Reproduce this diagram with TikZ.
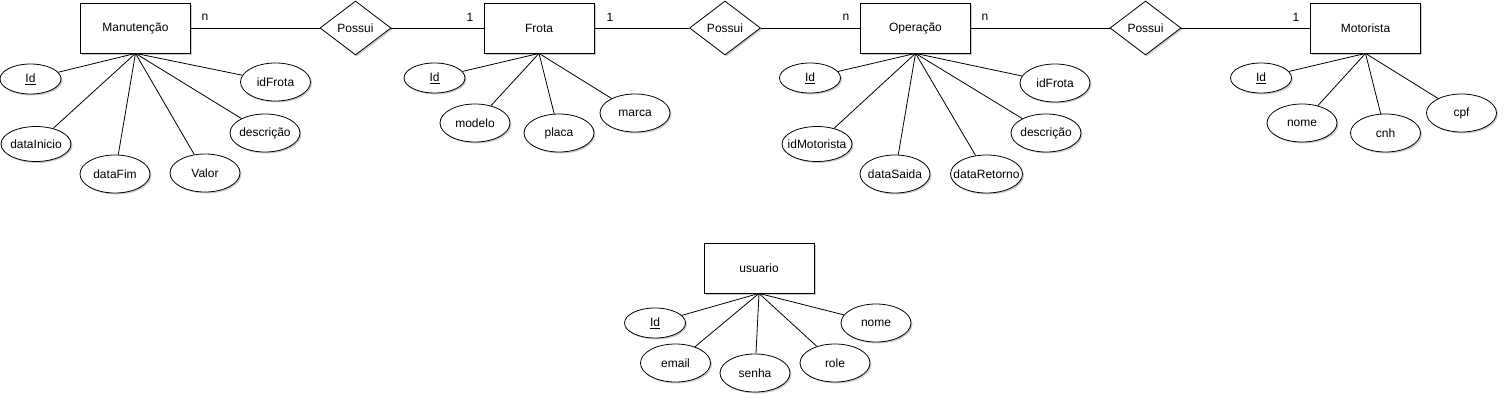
\documentclass[tikz,border=0pt]{standalone}
\usepackage{fontspec}
\setmainfont{Liberation Sans}
\usetikzlibrary{shapes.geometric,shadows}
\newcommand\tz[1]{\makebox[0pt]{#1}}
\begin{document}
\begin{tikzpicture}[x=1pt,y=-1pt,
  font=\fontsize{12}{14}\selectfont,
  sh/.style={drop shadow={shadow xshift=1.5pt,shadow yshift=-1.5pt,opacity=0.2,fill=black}},
  entity/.style={draw,thick,fill=white,sh,minimum width=110pt,minimum height=50pt,inner sep=0pt},
  rel/.style={draw,thick,fill=white,sh,diamond,aspect=1.3,minimum width=71pt,minimum height=54pt,inner sep=0pt},
  attr/.style={draw,thick,fill=white,sh,ellipse,minimum width=70pt,minimum height=38pt,inner sep=0pt},
  keyattr/.style={attr,minimum width=61pt,minimum height=30pt},
  link/.style={thick},
  card/.style={inner sep=0pt}
]
\useasboundingbox (0,0) rectangle (1508,405);
\fill[white] (0,0) rectangle (1508,405);

% entities and relations
\node[entity] (man) at (135.5,28) {Manutenção};
\node[rel] (r1) at (355.5,28) {Possui};
\node[entity] (fro) at (539,28) {Frota};
\node[rel] (r2) at (725,28) {Possui};
\node[entity] (ope) at (915.5,28) {Operação};
\node[rel] (r3) at (1145.5,28) {Possui};
\node[entity] (mot) at (1365.5,28) {Motorista};
\node[entity] (usu) at (759,268) {usuario};

\draw[link] (man) -- (r1);
\draw[link] (r1) -- (fro);
\draw[link] (fro) -- (r2);
\draw[link] (r2) -- (ope);
\draw[link] (ope) -- (r3);
\draw[link] (r3) -- (mot);

\node[card] (c1) at (205,17) {n};
\node[card] (c2) at (470,17) {1};
\node[card] (c3) at (610,17) {1};
\node[card] (c4) at (846,17) {n};
\node[card] (c5) at (985,17) {n};
\node[card] (c6) at (1296,17) {1};

% Manutencao attributes
\node[keyattr] (m1) at (30.5,79) {\underline{Id}};
\node[attr] (m2) at (275.5,82) {\tz{idFrota}};
\node[attr,minimum height=35pt] (m3) at (36,144) {\tz{dataInicio}};
\node[attr] (m4) at (265,133) {\tz{descrição}};
\node[attr] (m5) at (115,174) {\tz{dataFim}};
\node[attr] (m6) at (205,173) {\tz{Valor}};
\foreach \a in {m1,m2,m3,m4,m5,m6} \draw[link] (man.south) -- (\a);

% Frota attributes
\node[keyattr] (f1) at (434.5,78) {\underline{Id}};
\node[attr] (f2) at (475,123) {\tz{modelo}};
\node[attr] (f3) at (559,133) {\tz{placa}};
\node[attr] (f4) at (635,113) {\tz{marca}};
\foreach \a in {f1,f2,f3,f4} \draw[link] (fro.south) -- (\a);

% Operacao attributes
\node[keyattr] (o1) at (810,78) {\underline{Id}};
\node[attr] (o2) at (1055,83) {\tz{idFrota}};
\node[attr,minimum height=35pt] (o3) at (817,144) {\tz{idMotorista}};
\node[attr] (o4) at (1046,133) {\tz{descrição}};
\node[attr] (o5) at (895,174) {\tz{dataSaida}};
\node[attr,minimum width=72pt] (o6) at (986.5,174) {\tz{dataRetorno}};
\foreach \a in {o1,o2,o3,o4,o5,o6} \draw[link] (ope.south) -- (\a);

% Motorista attributes
\node[keyattr] (d1) at (1261,78) {\underline{Id}};
\node[attr] (d2) at (1302,123) {\tz{nome}};
\node[attr] (d3) at (1385.5,133) {\tz{cnh}};
\node[attr] (d4) at (1461.5,113) {\tz{cpf}};
\foreach \a in {d1,d2,d3,d4} \draw[link] (mot.south) -- (\a);

% usuario attributes
\node[keyattr] (u1) at (655,323) {\underline{Id}};
\node[attr] (u2) at (876,323) {\tz{nome}};
\node[attr] (u3) at (675.5,363) {\tz{email}};
\node[attr] (u4) at (755,373) {\tz{senha}};
\node[attr] (u5) at (835,363) {\tz{role}};
\foreach \a in {u1,u2,u3,u4,u5} \draw[link] (usu.south) -- (\a);
\end{tikzpicture}
\end{document}
